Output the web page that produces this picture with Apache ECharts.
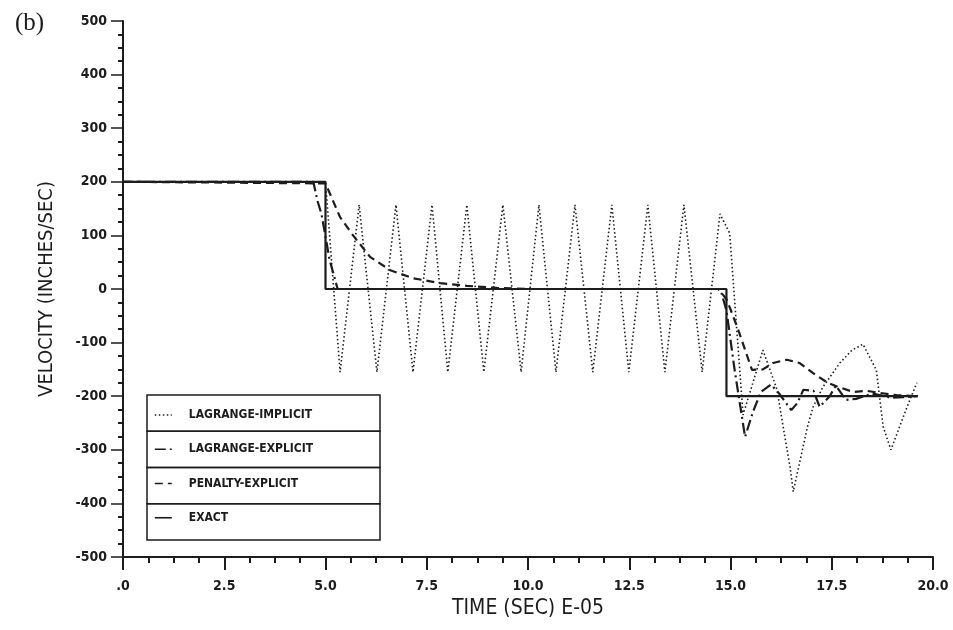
<!DOCTYPE html>
<html>
<head>
<meta charset="utf-8">
<script src="https://cdn.jsdelivr.net/npm/echarts@6/dist/echarts.min.js"></script>
<style>html,body{margin:0;padding:0;background:#fff}#c{width:953px;height:630px}</style>
</head>
<body>
<div id="c"></div>
<script>
var seriesNames = ['LAGRANGE-IMPLICIT', 'LAGRANGE-EXPLICIT', 'PENALTY-EXPLICIT', 'EXACT'];

var lagrangeImplicit = [
  [0,200],[5.0,200],[5.36,-155],[5.83,157],[6.27,-155],[6.74,157],[7.16,-155],[7.63,157],
  [8.02,-155],[8.49,157],[8.91,-155],[9.38,157],[9.83,-155],[10.27,157],[10.69,-155],
  [11.16,157],[11.60,-155],[12.07,157],[12.49,-155],[12.96,157],[13.38,-155],[13.85,157],
  [14.30,-155],[14.74,140],[14.98,104],[15.31,-235],[15.80,-114],[16.15,-188],[16.3,-257],
  [16.47,-332],[16.55,-378],[16.9,-257],[17.04,-220],[17.28,-183],[17.7,-138],[18.0,-114],
  [18.27,-103],[18.6,-151],[18.77,-257],[18.96,-300],[19.36,-220],[19.6,-175]
];

var lagrangeExplicit = [
  [0,200],[4.7,200],[4.8,165],[4.9,140],[5.1,55],[5.3,0],[14.75,0],[14.9,-40],[15.1,-150],
  [15.36,-276],[15.55,-230],[15.75,-192],[16.0,-178],[16.2,-195],[16.5,-226],[16.65,-213],
  [16.8,-188],[17.05,-190],[17.2,-220],[17.45,-200],[17.6,-180],[17.85,-207],[18.1,-205],
  [18.5,-195],[19.0,-203],[19.6,-200]
];

var penaltyExplicit = [
  [0,200],[5.0,197],[5.36,134],[5.68,100],[6.1,60],[6.6,35],[7.16,20],[7.83,11],[8.49,6],
  [9.23,2],[10.0,0],[14.7,0],[14.91,-20],[15.19,-76],[15.53,-151],[15.8,-150],[16.05,-138],
  [16.39,-132],[16.7,-138],[17.04,-157],[17.4,-175],[17.63,-182],[18.03,-192],[18.37,-190],
  [18.7,-194],[19.1,-198],[19.6,-200]
];

var exact = [
  [0,200],[5.0,200],[5.0,0],[14.9,0],[14.9,-200],[19.63,-200]
];

var condensed = '"Liberation Sans Narrow","DejaVu Sans Condensed","Roboto Condensed","Arial Narrow","DejaVu Sans",sans-serif';
var ink = '#1c1c1c';

var chart = echarts.init(document.getElementById('c'));

function mk(name, data, lineStyle, z) {
  return {
    name: name, type: 'line', data: data, symbol: 'none', showSymbol: false,
    animation: false, z: z,
    lineStyle: Object.assign({color: ink}, lineStyle),
    itemStyle: {color: ink}
  };
}

var legendTop = 395, rowH = 36.25, boxLeft = 147, boxW = 233;
var legendGraphics = [];
for (var i = 0; i < 4; i++) {
  legendGraphics.push({
    type: 'rect', silent: true, z: 1,
    shape: {x: boxLeft, y: legendTop + i * rowH, width: boxW, height: rowH},
    style: {fill: 'rgba(0,0,0,0)', stroke: ink, lineWidth: 1.5}
  });
}

chart.setOption({
  backgroundColor: '#fff',
  animation: false,
  title: {
    text: '(b)', left: 10, top: 6,
    textStyle: {fontFamily: '"Liberation Serif","DejaVu Serif",serif', fontSize: 25, fontWeight: 'normal', color: ink}
  },
  grid: {left: 123, right: 20, top: 21, bottom: 73},
  graphic: legendGraphics,
  legend: {
    show: true,
    data: seriesNames,
    orient: 'vertical',
    left: 149, top: legendTop + 9,
    itemWidth: 17, itemHeight: 14, itemGap: 22.25,
    itemStyle: {opacity: 0, borderWidth: 0},
    lineStyle: {width: 1.6},
    textStyle: {fontFamily: condensed, fontSize: 12, fontWeight: 'bold', color: ink, padding: [0, 0, 0, 12]},
    selectedMode: false
  },
  xAxis: {
    type: 'value', min: 0, max: 20, interval: 2.5,
    name: 'TIME (SEC) E-05', nameLocation: 'middle', nameGap: 34,
    nameTextStyle: {fontFamily: condensed, fontSize: 21, color: ink},
    axisLine: {onZero: false, lineStyle: {color: ink, width: 2}},
    axisTick: {length: 13, lineStyle: {color: ink, width: 2}},
    minorTick: {show: true, splitNumber: 4, length: 6, lineStyle: {color: ink, width: 2}},
    splitLine: {show: false},
    axisLabel: {
      margin: 22, fontFamily: condensed, fontSize: 14, fontWeight: 'bold', color: ink,
      formatter: function (v) { return v === 0 ? '.0' : v.toFixed(1); }
    }
  },
  yAxis: {
    type: 'value', min: -500, max: 500, interval: 100,
    name: 'VELOCITY (INCHES/SEC)', nameLocation: 'middle', nameGap: 66, nameRotate: 90,
    nameTextStyle: {fontFamily: condensed, fontSize: 20, color: ink},
    axisLine: {onZero: false, lineStyle: {color: ink, width: 2}},
    axisTick: {length: 12, lineStyle: {color: ink, width: 1.5}},
    minorTick: {show: true, splitNumber: 4, length: 5, lineStyle: {color: ink, width: 2}},
    splitLine: {show: false},
    axisLabel: {margin: 16, fontFamily: condensed, fontSize: 14, fontWeight: 'bold', color: ink}
  },
  series: [
    mk(seriesNames[0], lagrangeImplicit, {width: 1.6, type: [1.5, 2.5]}, 2),
    mk(seriesNames[1], lagrangeExplicit, {width: 2.2, type: [11, 4, 2, 4]}, 3),
    mk(seriesNames[2], penaltyExplicit, {width: 2.2, type: [8, 5]}, 4),
    mk(seriesNames[3], exact, {width: 2.2, type: 'solid'}, 5)
  ]
});
</script>
</body>
</html>
